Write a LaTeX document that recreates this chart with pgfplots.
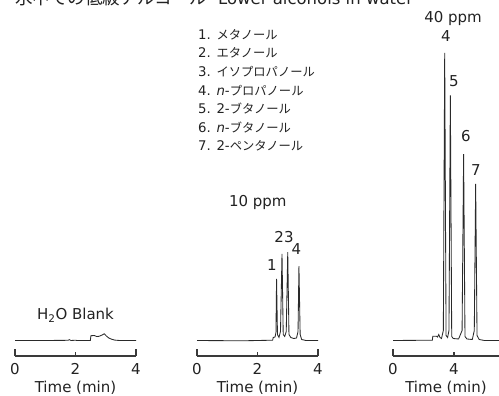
\documentclass[border=0pt]{standalone}
\usepackage{fontspec}
\setmainfont{DejaVu Sans}
\newfontfamily\jp{Noto Sans CJK JP}
\usepackage{pgfplots}
\pgfplotsset{compat=1.18}
\definecolor{trace}{HTML}{2A2A2A}
\definecolor{axc}{HTML}{3A3A3A}
\definecolor{txt}{HTML}{222222}
\newcommand{\J}[1]{{\fontsize{12.3bp}{14bp}\jp\selectfont #1}}
\newcommand{\fs}{\fontsize{15bp}{18bp}\selectfont}
\newcommand{\fl}{\fontsize{13.3bp}{15bp}\selectfont}
\pgfplotsset{
 chrom/.style={
  y=1bp, ymin=-15.5, ymax=300, clip=false,
  axis y line=none, axis x line*=bottom,
  axis line style={axc, line width=1.1bp},
  tick align=inside, major tick length=7bp,
  every tick/.append style={axc, line width=1.1bp},
  tick label style={font=\fs, text=txt},
  /pgf/number format/assume math mode=true,
  xticklabel style={yshift=-4bp},
  extra x tick style={major tick length=4bp},
  xlabel={Time (min)},
  xlabel style={font=\fs, text=txt, at={(axis description cs:0.5,0)}, anchor=base, yshift=-36.5bp},
  anchor=south west,
 }
}
\begin{document}
\begin{tikzpicture}
% Panel 1: blank
\begin{axis}[chrom, x=30.25bp, xmin=0, xmax=4, xtick={0,4}, extra x ticks={2}, at={(15bp,40bp)}]
\addplot[trace, line width=0.85bp] coordinates {
(0,0) (1.0,0) (1.75,0.2) (1.8,0.8) (1.85,0) (2.0,0.3) (2.05,0) (2.49,0) (2.51,4.8) (2.62,5) (2.7,4) (2.78,4.2) (2.88,5.5) (2.95,6.7) (3.02,4.5) (3.1,2.5) (3.2,1.2) (3.3,0.4) (3.45,0) (4,0)
};
\end{axis}
% Panel 2: 10 ppm
\begin{axis}[chrom, x=30.25bp, xmin=0, xmax=4, xtick={0,4}, extra x ticks={2}, at={(197bp,40bp)}]
\addplot[trace, line width=0.85bp] coordinates {
(0,0) (1.5,-0.3) (2.5,0.3) (2.52,3) (2.58,3.5) (2.61,8) (2.63,61.7) (2.66,6) (2.71,3) (2.76,9) (2.81,86.7) (2.85,6) (2.9,4) (2.95,9) (3.0,88.3) (3.04,6) (3.1,3) (3.2,2) (3.29,2.5) (3.34,9) (3.37,74.3) (3.41,6) (3.46,1) (3.6,0) (4,0)
};
\end{axis}
% Panel 3: 40 ppm
\begin{axis}[chrom, x=15.25bp, xmin=0, xmax=6.95, xtick={0}, extra x ticks={4}, at={(393bp,40bp)}]
\addplot[trace, line width=0.85bp] coordinates {
(0,0) (2.58,0.3) (2.61,4.3) (2.85,4.3) (2.92,3.5) (3.0,6) (3.08,3) (3.18,2) (3.3,10) (3.39,287.7) (3.48,5) (3.58,3) (3.67,10) (3.76,245) (3.85,4) (3.95,2) (4.3,1.5) (4.53,10) (4.63,186.3) (4.72,4) (4.85,1.5) (5.2,1) (5.33,10) (5.42,156.7) (5.51,5) (5.65,1) (6.0,0) (6.95,0)
};
\end{axis}
% title (cropped at the top as in the reference)
\node[anchor=base west, inner sep=0, text=txt] at (15bp,391bp) {\fontsize{17.5bp}{20bp}\jp\selectfont 水中での低級アルコール};
\node[anchor=base west, inner sep=0, text=txt] at (218bp,391bp) {\fontsize{16.5bp}{20bp}\selectfont Lower alcohols in water};
% legend list
\begin{scope}[every node/.style={anchor=base west, inner sep=0, text=txt, font=\fl}]
\node at (198bp,356.7bp) {1. \J{メタノール}};
\node at (198bp,338.2bp) {2. \J{エタノール}};
\node at (198bp,319.5bp) {3. \J{イソプロパノール}};
\node at (198bp,300.9bp) {4. \textit{n}-\J{プロパノール}};
\node at (198bp,282.3bp) {5. 2-\J{ブタノール}};
\node at (198bp,263.7bp) {6. \textit{n}-\J{ブタノール}};
\node at (198bp,245.1bp) {7. 2-\J{ペンタノール}};
\end{scope}
% annotations
\begin{scope}[every node/.style={anchor=base, inner sep=0, text=txt, font=\fs}]
\node at (75.5bp,76.5bp) {H\textsubscript{2}O Blank};
\node at (257.8bp,189.5bp) {10 ppm};
\node at (272bp,125bp) {1};
\node at (284bp,153bp) {23};
\node at (296.5bp,141bp) {4};
\node at (453bp,373bp) {40 ppm};
\node at (446bp,354bp) {4};
\node at (454bp,309bp) {5};
\node at (466bp,254bp) {6};
\node at (476bp,220bp) {7};
\end{scope}
\pgfresetboundingbox
\path[use as bounding box] (0,0) rectangle (499bp,396bp);
\end{tikzpicture}
\end{document}
